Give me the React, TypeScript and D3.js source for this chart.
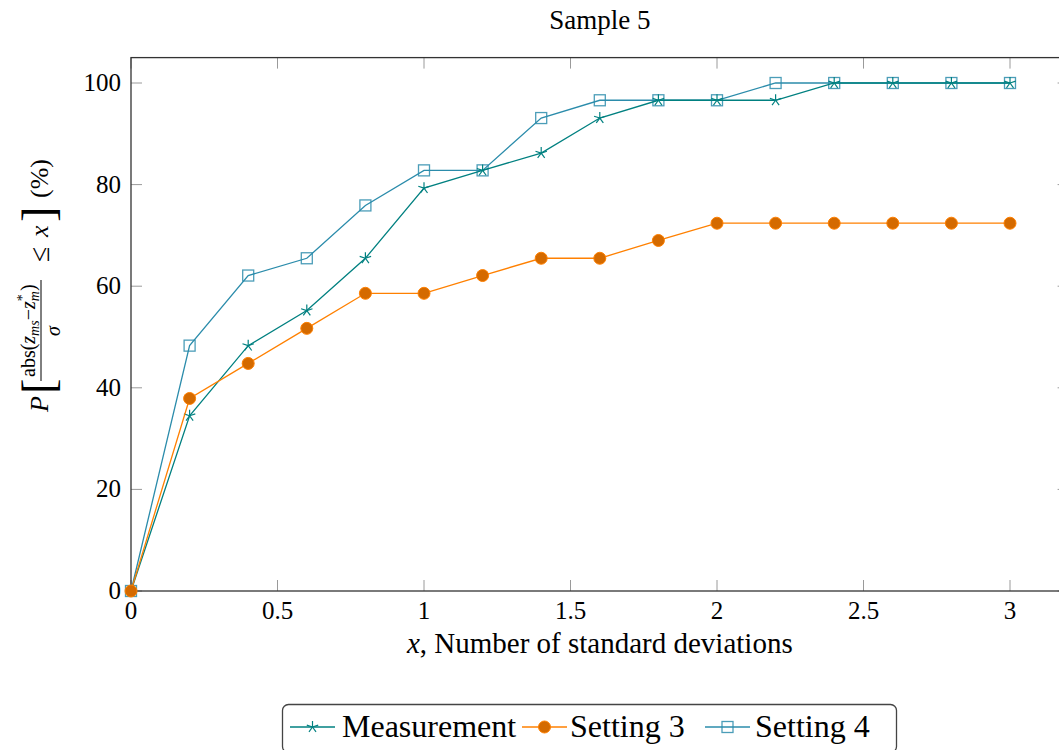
import React from "react";
import * as d3 from "d3";

const xs = [0, 0.2, 0.4, 0.6, 0.8, 1.0, 1.2, 1.4, 1.6, 1.8, 2.0, 2.2, 2.4, 2.6, 2.8, 3.0];
const measurement = [0, 34.5, 48.3, 55.2, 65.5, 79.3, 82.8, 86.2, 93.1, 96.6, 96.6, 96.6, 100, 100, 100, 100];
const setting3 = [0, 37.9, 44.8, 51.7, 58.6, 58.6, 62.1, 65.5, 65.5, 69.0, 72.4, 72.4, 72.4, 72.4, 72.4, 72.4];
const setting4 = [0, 48.3, 62.1, 65.5, 75.9, 82.8, 82.8, 93.1, 96.6, 96.6, 96.6, 100, 100, 100, 100, 100];
const xTicks = [0, 0.5, 1, 1.5, 2, 2.5, 3];
const yTicks = [0, 20, 40, 60, 80, 100];
const seriesNames = ["Measurement", "Setting 3", "Setting 4"];

const TEAL = "#008080";
const ORANGE = "#ff8000";
const ORANGE_FILL = "#d46a00";
const BLUE = "#2b8cab";
const FONT = "'Liberation Serif', 'DejaVu Serif', serif";

const W = 1059, H = 750;
const L = 131, R = 1068.6, T = 57.6, B = 591;

function Marker({ kind, x, y }: { kind: string; x: number; y: number }) {
  if (kind === "star") {
    const r = 6;
    const angles = [90, 162, 234, 306, 18];
    return (
      <g>
        {angles.map((a, i) => (
          <line key={i} x1={x} y1={y} x2={x + r * Math.cos((a * Math.PI) / 180)} y2={y - r * Math.sin((a * Math.PI) / 180)} stroke={TEAL} strokeWidth={1.2} />
        ))}
      </g>
    );
  }
  if (kind === "circle") {
    return <circle cx={x} cy={y} r={6} fill={ORANGE_FILL} stroke={ORANGE} strokeWidth={1} />;
  }
  return <rect x={x - 5.5} y={y - 5.5} width={11} height={11} fill="none" stroke={BLUE} strokeWidth={1.3} opacity={0.85} />;
}

export default function App() {
  const x = d3.scaleLinear().domain([0, 3.2]).range([L, R]);
  const y = d3.scaleLinear().domain([0, 105]).range([B, T]);
  const line = d3.line<[number, number]>().x((d) => x(d[0])).y((d) => y(d[1]));
  const series = [
    { name: seriesNames[0], vals: measurement, color: TEAL, kind: "star" },
    { name: seriesNames[1], vals: setting3, color: ORANGE, kind: "circle" },
    { name: seriesNames[2], vals: setting4, color: BLUE, kind: "square" },
  ];
  const drawOrder = [series[2], series[0], series[1]];

  const legendItems = [
    { s: series[0], lx: 290, tx: 342 },
    { s: series[1], lx: 522, tx: 570 },
    { s: series[2], lx: 705, tx: 755 },
  ];

  return (
    <svg width={W} height={H} style={{ position: "absolute", left: 0, top: 0, fontFamily: FONT }} fontFamily={FONT}>
      <rect width={W} height={H} fill="white" />
      <text x={(L + R) / 2} y={29} textAnchor="middle" fontSize={27}>Sample 5</text>

      {/* ticks */}
      {xTicks.map((t) => (
        <g key={"xt" + t}>
          <line x1={x(t)} x2={x(t)} y1={B} y2={B - 11} stroke="#9a9a9a" strokeWidth={1} />
          <line x1={x(t)} x2={x(t)} y1={T} y2={T + 11} stroke="#9a9a9a" strokeWidth={1} />
          <text x={x(t)} y={619} textAnchor="middle" fontSize={25}>{String(t)}</text>
        </g>
      ))}
      {yTicks.map((t) => (
        <g key={"yt" + t}>
          <line x1={L} x2={L + 11} y1={y(t)} y2={y(t)} stroke="#9a9a9a" strokeWidth={1} />
          <line x1={R} x2={R - 11} y1={y(t)} y2={y(t)} stroke="#9a9a9a" strokeWidth={1} />
          <text x={121} y={y(t) + 8} textAnchor="end" fontSize={25}>{String(t)}</text>
        </g>
      ))}

      {/* frame */}
      <rect x={L} y={T} width={R - L} height={B - T} fill="none" stroke="#333" strokeWidth={1.3} />

      {/* series */}
      {drawOrder.map((s) => (
        <g key={s.name}>
          <path d={line(xs.map((v, i) => [v, s.vals[i]] as [number, number])) || ""} fill="none" stroke={s.color} strokeWidth={1.3} />
          {xs.map((v, i) => (
            <Marker key={i} kind={s.kind} x={x(v)} y={y(s.vals[i])} />
          ))}
        </g>
      ))}

      {/* x label */}
      <text x={(L + R) / 2} y={653} textAnchor="middle" fontSize={29}>
        <tspan fontStyle="italic">x</tspan>, Number of standard deviations
      </text>

      {/* y label */}
      <g transform="translate(48,412) rotate(-90)" fontSize={26}>
        <text x={0} y={0} fontStyle="italic">P</text>
        <text x={18} y={6} fontSize={46} fontWeight={200}>[</text>
        <text x={35} y={-13} fontSize={20}>
          abs(<tspan fontStyle="italic">z</tspan><tspan fontStyle="italic" fontSize={14} dy={4}>ms</tspan><tspan dy={-4}>−</tspan><tspan fontStyle="italic">z</tspan><tspan fontSize={14} dy={-8}>*</tspan><tspan fontStyle="italic" fontSize={14} dx={-7} dy={12}>m</tspan><tspan dy={-4}>)</tspan>
        </text>
        <line x1={31} x2={132} y1={-7} y2={-7} stroke="#000" strokeWidth={1} />
        <text x={76} y={12} fontSize={20} fontStyle="italic">σ</text>
        <text x={150} y={1} fontSize={28}>≤</text>
        <text x={175} y={0} fontStyle="italic">x</text>
        <text x={190} y={6} fontSize={46} fontWeight={200}>]</text>
        <text x={214} y={0}>(%)</text>
      </g>

      {/* legend */}
      <rect x={282.5} y={704.5} width={614} height={48} rx={6} fill="white" stroke="#444" strokeWidth={1.3} />
      {legendItems.map(({ s, lx, tx }) => (
        <g key={"lg" + s.name}>
          <line x1={lx} x2={lx + 45} y1={727} y2={727} stroke={s.color} strokeWidth={1.3} />
          <Marker kind={s.kind} x={lx + 22.5} y={727} />
          <text x={tx} y={737} fontSize={32}>{s.name}</text>
        </g>
      ))}
    </svg>
  );
}
